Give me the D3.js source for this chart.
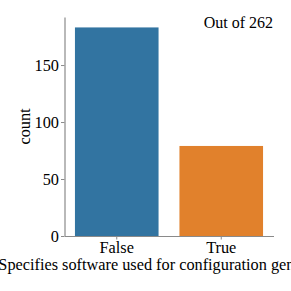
<!DOCTYPE html>
<html><head><meta charset="utf-8">
<script src="https://cdn.jsdelivr.net/npm/d3@7"></script>
<style>body{margin:0;background:#fff}svg{display:block}text{font-family:"Liberation Serif","Times New Roman",serif}</style>
</head><body>
<svg id="c" width="291" height="291"></svg>
<script>
const categories = ["False", "True"];
const counts = [183, 79];
const yTicks = [0, 50, 100, 150];
const colors = ["#3274a1", "#e1812c"];
const total = 262;

(function () {
const svg = d3.select("#c");
const mL = 64.5, mR = 273.5, mT = 17, mB = 236;
const x = d3.scaleBand().domain(categories).range([mL, mR]).paddingInner(0.2).paddingOuter(0.1);
const y = d3.scaleLinear().domain([0, 183 * 1.05]).range([mB, mT]);

svg.selectAll("rect.bar").data(categories).enter().append("rect")
  .attr("class", "bar")
  .attr("x", d => x(d))
  .attr("width", x.bandwidth())
  .attr("y", (d, i) => y(counts[i]))
  .attr("height", (d, i) => y(0) - y(counts[i]))
  .attr("fill", (d, i) => colors[i]);

const axisColor = "#8a8a8a";
const yAxis = svg.append("g").attr("transform", `translate(${mL},0)`)
  .call(d3.axisLeft(y).tickValues(yTicks).tickSize(3.5).tickPadding(2).tickSizeOuter(0));
const xAxis = svg.append("g").attr("transform", `translate(0,${mB})`)
  .call(d3.axisBottom(x).tickSize(3.5).tickPadding(1.5).tickSizeOuter(0));
[yAxis, xAxis].forEach(g => {
  g.select(".domain").attr("stroke", axisColor).attr("stroke-width", 1.2);
  g.selectAll(".tick line").attr("stroke", axisColor);
  g.selectAll(".tick text").attr("fill", "#000").attr("font-size", 16.3)
    .attr("font-family", "Liberation Serif, serif");
});

svg.append("text").attr("transform", `translate(30,${(mT + mB) / 2}) rotate(-90)`)
  .attr("text-anchor", "middle").attr("font-size", 16.3).text("count");
svg.append("text").attr("x", (mL + mR) / 2).attr("y", 269.5)
  .attr("text-anchor", "middle").attr("font-size", 16.3)
  .text("Specifies software used for configuration generation");
svg.append("text").attr("x", 273).attr("y", 28)
  .attr("text-anchor", "end").attr("font-size", 16).text("Out of " + total);
})();
</script>
</body></html>
